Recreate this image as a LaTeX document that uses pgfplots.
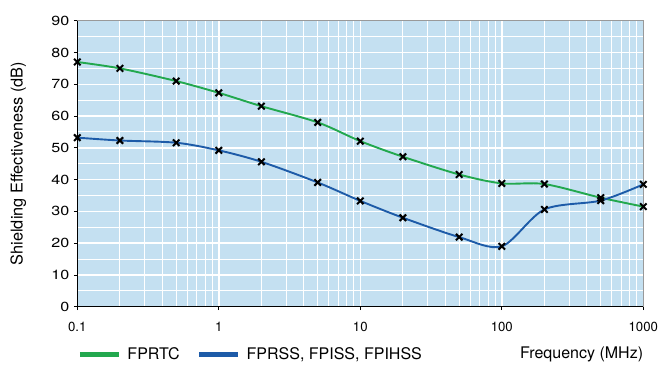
\documentclass[border=0pt]{standalone}
\usepackage{fontspec}
\setmainfont{TeX Gyre Heros}
\newfontfamily\ytickfont[FakeStretch=1.22]{TeX Gyre Heros}
\usepackage{pgfplots}
\pgfplotsset{compat=1.18}
\definecolor{bgblue}{HTML}{C4E0F1}
\definecolor{cgreen}{HTML}{22A84E}
\definecolor{cblue}{HTML}{1D5BA8}
\begin{document}
\begin{tikzpicture}
\path[use as bounding box] (-77.3pt,-58.3pt) rectangle (580.7pt,306.7pt);
\begin{axis}[
  at={(0pt,0pt)}, anchor=south west,
  scale only axis, width=566pt, height=286pt,
  xmode=log, log basis x=10,
  xmin=0.1, xmax=1000, ymin=0, ymax=90,
  xtick={0.1,1,10,100,1000},
  xticklabels={0.1,1,10,100,1000},
  minor xtick={0.2,0.3,0.4,0.5,0.6,0.7,0.8,0.9,2,3,4,5,6,7,8,9,20,30,40,50,60,70,80,90,200,300,400,500,600,700,800,900},
  ytick={0,10,...,90},
  minor ytick={5,15,...,85},
  grid=both,
  major grid style={white, line width=1.4pt},
  minor grid style={white, line width=1pt},
  axis background/.style={fill=bgblue},
  axis line style={black!40, line width=0.8pt},
  tick align=outside, tick pos=left,
  major tick length=3.5pt, minor tick length=0pt,
  tick style={black, line width=0.8pt},
  /pgf/number format/assume math mode=true,
  xticklabel style={font=\fontsize{13.2}{16}\selectfont, yshift=-8pt},
  yticklabel style={font=\ytickfont\fontsize{13.2}{16}\selectfont, xshift=-1pt},
  ylabel={Shielding Effectiveness (dB)},
  ylabel style={font=\fontsize{16.3}{19}\selectfont, at={(axis description cs:-0.104,0.5)}, anchor=center, rotate=0},
  xlabel={Frequency (MHz)},
  xlabel style={font=\fontsize{16}{19}\selectfont, at={(axis description cs:1,0)}, anchor=east, yshift=-47.5pt, inner sep=0pt},
  legend style={at={(axis description cs:0,-0.166)}, anchor=west, draw=none, fill=none,
    inner sep=0pt, font=\fontsize{16}{19}\selectfont, legend columns=2,
    /tikz/every even column/.append style={column sep=15pt},
    /tikz/every odd column/.append style={column sep=4pt}},
  legend cell align=left,
  legend image code/.code={\draw[#1, mark=none, line width=5pt] (0pt,0pt) -- (39pt,0pt);},
  clip=false,
]
\addlegendimage{cgreen}
\addlegendentry{FPRTC}
\addlegendimage{cblue}
\addlegendentry{FPRSS, FPISS, FPIHSS}
\addplot[cgreen, line width=1.9pt, smooth, tension=0.5, mark=x, mark size=4.6pt,
  mark options={black, line width=2pt}, forget plot] coordinates {
  (0.1,77.0) (0.2,75.0) (0.5,71.0) (1,67.3) (2,63.1) (5,58.0) (10,52.1)
  (20,47.2) (50,41.6) (100,38.8) (200,38.6) (500,34.3) (1000,31.5)};
\addplot[cblue, line width=1.9pt, smooth, tension=0.5, mark=x, mark size=4.6pt,
  mark options={black, line width=2pt}, forget plot] coordinates {
  (0.1,53.2) (0.2,52.3) (0.5,51.6) (1,49.2) (2,45.6) (5,39.1) (10,33.3)
  (20,28.0) (50,21.9) (100,19.0) (200,30.6) (500,33.4) (1000,38.5)};
\draw[black, line width=0.9pt] (rel axis cs:0,1) -- (rel axis cs:0,0) -- (rel axis cs:1,0);
\end{axis}
\end{tikzpicture}
\end{document}
